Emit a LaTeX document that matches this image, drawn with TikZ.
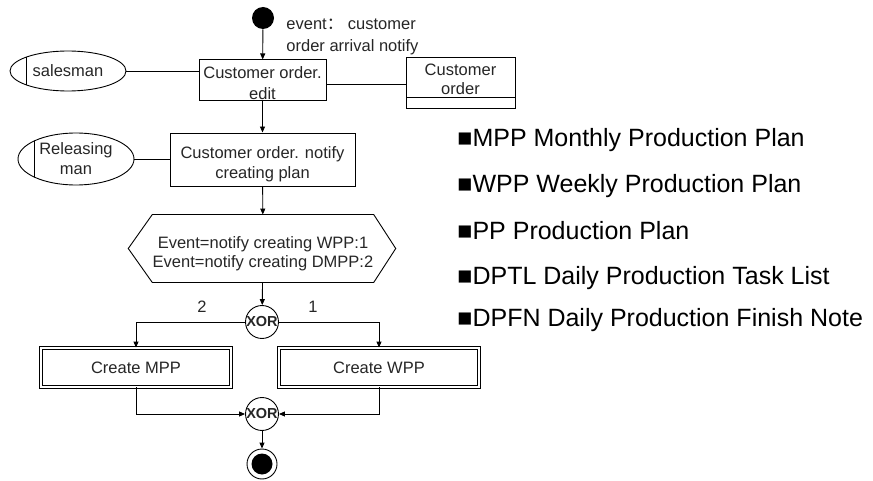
\documentclass[tikz,border=0pt]{standalone}
\usepackage{fontspec}
\setmainfont{Liberation Sans}
\newfontfamily\cjk{Noto Sans CJK SC}
\usetikzlibrary{arrows.meta,shapes.geometric}
\begin{document}
\begin{tikzpicture}[x=1pt, y=-1pt, line width=0.9pt,
  every node/.style={font=\fontsize{16.5}{19}\selectfont, text=black!85, inner sep=0pt},
  arr/.style={-{Triangle[length=6pt, width=5pt]}},
  func/.style={draw, rectangle, align=center},
  subproc/.style={draw, rectangle, double, double distance=1.6pt, align=center},
  actor/.style={draw, ellipse, align=center, path picture={
      \draw ([xshift=16pt]path picture bounding box.south west) -- ([xshift=16pt]path picture bounding box.north west);}},
  entity/.style={draw, rectangle, align=center, path picture={
      \draw ([yshift=11pt]path picture bounding box.south west) -- ([yshift=11pt]path picture bounding box.south east);}},
  xor/.style={draw, circle, minimum size=30pt, font=\fontsize{14.5}{14.5}\selectfont\bfseries},
  legend/.style={anchor=west, font=\fontsize{25}{25}\selectfont, text=black}]
\useasboundingbox (0,0) rectangle (873,481);
% process chain
\node[circle, fill, minimum size=22pt] (start) at (263,18){};
\node[anchor=west, align=left, font=\fontsize{16.5}{22}\selectfont] (evt) at (286,37){event{\cjk ：} customer\\order arrival notify};
\node[func, minimum width=127pt, minimum height=38pt, text height=40pt, font=\fontsize{16.5}{21}\selectfont] (edit) at (262.5,80){Customer order.\\edit};
\node[actor, minimum width=116pt, minimum height=40pt] (sales) at (68,71){salesman};
\node[entity, minimum width=109pt, minimum height=51pt, text depth=6pt] (order) at (460.5,82.5){Customer\\order};
\node[func, minimum width=185pt, minimum height=53pt, text height=41pt, font=\fontsize{16.5}{20}\selectfont] (notify) at (262.5,159.5){Customer order. notify\\creating plan};
\node[actor, minimum width=116pt, minimum height=52pt, font=\fontsize{16.5}{20}\selectfont] (relman) at (76,159){Releasing\\man};
\node[minimum width=220pt, minimum height=67pt, align=center, text height=41pt, font=\fontsize{16.5}{18.5}\selectfont] (cond) at (263,248.5){Event=notify creating WPP:1\\Event=notify creating DMPP:2};
\draw (cond.north west) -- (cond.north east) -- ([xshift=22pt]cond.east) -- (cond.south east)
  -- (cond.south west) -- ([xshift=-24pt]cond.west) -- cycle;
\node[xor] (xor1) at (262,322){XOR};
\node (lab2) at (202,307){2};
\node (lab1) at (313,307){1};
\node[subproc, minimum width=190pt, minimum height=39pt] (mpp) at (136,367.5){Create MPP};
\node[subproc, minimum width=200pt, minimum height=39pt] (wpp) at (379,367.5){Create WPP};
\node[xor] (xor2) at (262,414){XOR};
\node[circle, draw, minimum size=30pt] (stop) at (262,464){};
\node[circle, fill, minimum size=21pt] (stopin) at (stop){};
\draw[arr] (start) -- (edit);
\draw (sales) -- (sales -| edit.west);
\draw ([yshift=-4pt]edit.east) -- ([yshift=-4pt]edit.east -| order.west);
\draw[arr] (edit) -- (notify);
\draw (relman) -- (relman -| notify.west);
\draw[arr] (notify) -- (cond);
\draw[arr] (cond) -- (xor1);
\draw[arr] (xor1.west) -| (mpp.north);
\draw[arr] (xor1.east) -| (wpp.north);
\draw[arr] (mpp.south) |- (xor2.west);
\draw[arr] (wpp.south) |- (xor2.east);
\draw[arr] (xor2) -- (stop);
% legend
\node[legend] (leg1) at (457,140){■MPP Monthly Production Plan};
\node[legend] (leg2) at (457,186){■WPP Weekly Production Plan};
\node[legend] (leg3) at (457,231){■PP Production Plan};
\node[legend] (leg4) at (457,278){■DPTL Daily Production Task List};
\node[legend] (leg5) at (457,320){■DPFN Daily Production Finish Note};
\end{tikzpicture}
\end{document}
